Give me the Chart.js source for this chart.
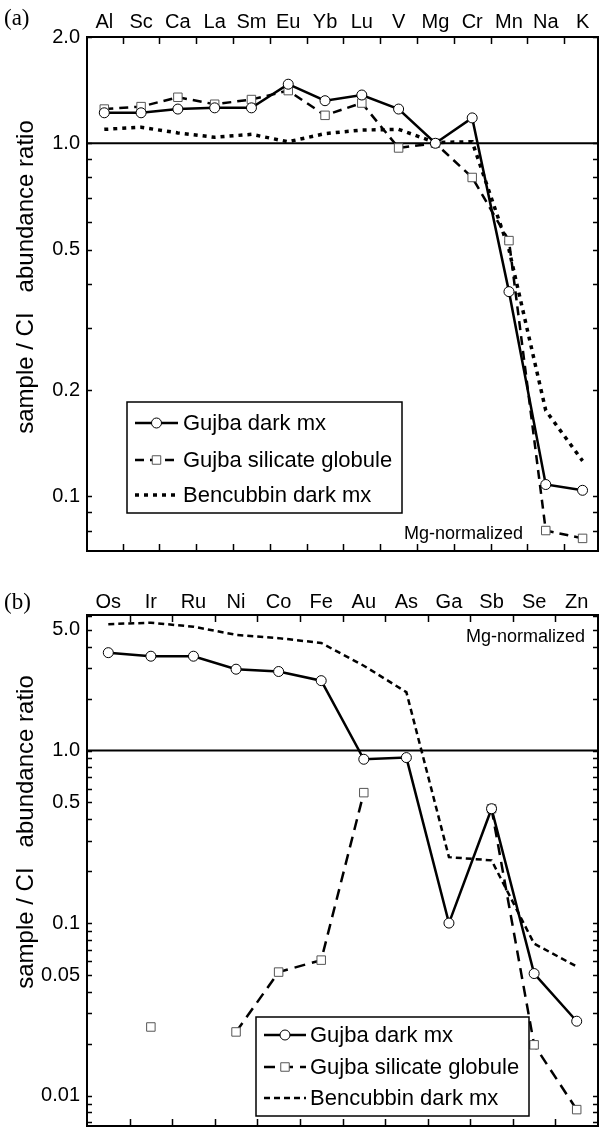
<!DOCTYPE html>
<html>
<head>
<meta charset="utf-8">
<script src="https://cdn.jsdelivr.net/npm/chart.js@4.4.0/dist/chart.umd.min.js"></script>
<style>
html, body { margin: 0; padding: 0; background: #fff; overflow: hidden; width: 605px; height: 1135px; }
.panel { position: absolute; left: 0; width: 605px; }
</style>
</head>
<body>
<div class="panel" style="top:0;height:570px"><canvas id="chartA"></canvas></div>
<div class="panel" style="top:570px;height:575px"><canvas id="chartB"></canvas></div>
<script>
// panel (a)
const elementsA = ['Al', 'Sc', 'Ca', 'La', 'Sm', 'Eu', 'Yb', 'Lu', 'V', 'Mg', 'Cr', 'Mn', 'Na', 'K'];
const gujbaDarkA = [1.22, 1.22, 1.25, 1.26, 1.26, 1.47, 1.32, 1.37, 1.25, 1.0, 1.18, 0.38, 0.108, 0.104];
const gujbaGlobA = [1.25, 1.27, 1.35, 1.29, 1.33, 1.41, 1.20, 1.30, 0.97, 1.0, 0.80, 0.53, 0.080, 0.076];
const bencubbinA = [1.095, 1.11, 1.07, 1.04, 1.06, 1.01, 1.065, 1.09, 1.095, 1.005, 1.01, 0.50, 0.175, 0.126];
const tickValsA = [0.1, 0.2, 0.5, 1, 2];
const tickLabelsA = ['0.1', '0.2', '0.5', '1.0', '2.0'];

// panel (b)
const elementsB = ['Os', 'Ir', 'Ru', 'Ni', 'Co', 'Fe', 'Au', 'As', 'Ga', 'Sb', 'Se', 'Zn'];
const gujbaDarkB = [3.69, 3.52, 3.52, 2.96, 2.87, 2.54, 0.89, 0.91, 0.10, 0.46, 0.051, 0.027];
const gujbaGlobB = [null, 0.025, null, 0.0234, 0.052, 0.061, 0.57, null, null, 0.46, 0.0197, 0.0083];
const bencubbinB = [5.4, 5.5, 5.22, 4.68, 4.48, 4.2, 3.1, 2.18, 0.241, 0.231, 0.076, 0.056];
const tickValsB = [0.01, 0.05, 0.1, 0.5, 1, 5];
const tickLabelsB = ['0.01', '0.05', '0.1', '0.5', '1.0', '5.0'];

const yTitle = 'sample / CI   abundance ratio';

const SANS = '"Liberation Sans", Arial, Helvetica, sans-serif';
const SERIF = '"Liberation Serif", "Times New Roman", serif';

function minorTicks(lo, hi) {
  const out = [];
  for (let d = -3; d <= 1; d++) {
    for (let m = 1; m <= 9; m++) {
      const v = m * Math.pow(10, d);
      if (v >= lo && v <= hi) out.push(v);
    }
  }
  return out;
}

function pts(vals) {
  return vals.map((v, i) => ({ x: i, y: v }));
}

// frame, inward ticks, 1.0 line, texts and the boxed legend
const frameTicks = {
  id: 'frameTicks',
  beforeDatasetsDraw(chart) {
    const { ctx, chartArea: a, scales: { y } } = chart;
    const py = y.getPixelForValue(1);
    ctx.save();
    ctx.lineWidth = 2;
    ctx.strokeStyle = '#000';
    ctx.beginPath();
    ctx.moveTo(a.left, py);
    ctx.lineTo(a.right, py);
    ctx.stroke();
    ctx.restore();
  },
  afterDatasetsDraw(chart, args, o) {
    const { ctx, chartArea: a, scales: { x, y } } = chart;
    ctx.save();
    ctx.strokeStyle = '#000';
    ctx.lineWidth = 2;
    ctx.strokeRect(a.left, a.top, a.right - a.left, a.bottom - a.top);
    ctx.lineWidth = 1.5;
    ctx.beginPath();
    o.xTicks.forEach(v => {
      const px = Math.round(x.getPixelForValue(v)) + 0.5;
      ctx.moveTo(px, a.top); ctx.lineTo(px, a.top + 7);
      ctx.moveTo(px, a.bottom); ctx.lineTo(px, a.bottom - 7);
    });
    o.yTicks.forEach(v => {
      const py = Math.round(y.getPixelForValue(v)) + 0.5;
      if (py < a.top || py > a.bottom) return;
      ctx.moveTo(a.left, py); ctx.lineTo(a.left + 5, py);
      ctx.moveTo(a.right, py); ctx.lineTo(a.right - 5, py);
    });
    ctx.stroke();
    ctx.restore();
  },
  afterDraw(chart, args, o) {
    const ctx = chart.ctx;
    ctx.save();
    ctx.fillStyle = '#000';
    ctx.font = '23px ' + SERIF;
    ctx.textBaseline = 'middle';
    ctx.textAlign = 'left';
    ctx.fillText(o.panel, 4, o.panelY);
    ctx.font = '18px ' + SANS;
    ctx.fillText('Mg-normalized', o.noteX, o.noteY);

    // rotated axis title
    ctx.save();
    ctx.translate(33, o.titleY);
    ctx.rotate(-Math.PI / 2);
    ctx.textAlign = 'center';
    ctx.textBaseline = 'alphabetic';
    ctx.font = '24px ' + SANS;
    ctx.fillText(yTitle, 0, 0);
    ctx.restore();

    const L = o.legend;
    ctx.lineWidth = 1.5;
    ctx.strokeRect(L.x, L.y, L.w, L.h);
    chart.data.datasets.forEach((ds, i) => {
      const yy = L.rows[i];
      ctx.save();
      ctx.strokeStyle = ds.borderColor;
      ctx.lineWidth = ds.borderWidth;
      ctx.setLineDash(ds.borderDash || []);
      ctx.beginPath();
      ctx.moveTo(L.x0, yy);
      ctx.lineTo(L.x1, yy);
      ctx.stroke();
      ctx.restore();
      const mx = (L.x0 + L.x1) / 2;
      if (ds.pointRadius > 0) {
        ctx.save();
        ctx.fillStyle = ds.pointBackgroundColor;
        ctx.strokeStyle = ds.pointBorderColor;
        ctx.lineWidth = ds.pointBorderWidth;
        ctx.beginPath();
        if (ds.pointStyle === 'rect') {
          const s = ds.pointRadius * Math.SQRT1_2;
          ctx.rect(mx - s, yy - s, 2 * s, 2 * s);
        } else {
          ctx.arc(mx, yy, ds.pointRadius, 0, Math.PI * 2);
        }
        ctx.fill();
        ctx.stroke();
        ctx.restore();
      }
      ctx.font = '22px ' + SANS;
      ctx.fillText(ds.label, L.tx, yy + 1);
    });
    ctx.restore();
  }
};

function makeChart(id, cfg) {
  const datasets = [
    {
      label: 'Gujba dark mx',
      data: pts(cfg.dark),
      borderColor: '#000',
      borderWidth: 2.5,
      pointStyle: 'circle',
      pointRadius: 5,
      pointBackgroundColor: '#fff',
      pointBorderColor: '#000',
      pointBorderWidth: 1
    },
    {
      label: 'Gujba silicate globule',
      data: pts(cfg.glob),
      borderColor: '#000',
      borderWidth: 2.5,
      borderDash: cfg.globDash,
      pointStyle: 'rect',
      pointRadius: 6,
      pointBackgroundColor: '#fff',
      pointBorderColor: '#555',
      pointBorderWidth: 1
    },
    {
      label: 'Bencubbin dark mx',
      data: pts(cfg.benc),
      borderColor: '#000',
      borderWidth: cfg.bencWidth,
      borderDash: cfg.bencDash,
      pointRadius: 0
    }
  ];

  return new Chart(document.getElementById(id), {
    type: 'line',
    data: { datasets },
    options: {
      responsive: true,
      maintainAspectRatio: false,
      animation: false,
      events: [],
      layout: { padding: { left: 0, right: 2, top: 0, bottom: cfg.padBottom } },
      scales: {
        x: {
          type: 'linear',
          position: 'top',
          min: cfg.xMin,
          max: cfg.xMax,
          afterBuildTicks: s => { s.ticks = cfg.cats.map((c, i) => ({ value: i })); },
          afterFit: s => { s.height = cfg.topH; },
          ticks: {
            autoSkip: false,
            maxRotation: 0,
            padding: cfg.xPad,
            color: '#000',
            font: { family: SANS, size: 20 },
            callback: v => cfg.cats[v]
          },
          grid: { display: false, drawTicks: false },
          border: { display: false }
        },
        y: {
          type: 'logarithmic',
          min: cfg.yMin,
          max: cfg.yMax,
          afterBuildTicks: s => { s.ticks = cfg.tickVals.map(v => ({ value: v })); },
          afterFit: s => { s.width = 87; },
          ticks: {
            autoSkip: false,
            padding: 7,
            color: '#000',
            font: { family: SANS, size: 20 },
            callback: v => cfg.tickLabels[cfg.tickVals.indexOf(v)]
          },
          grid: { display: false, drawTicks: false },
          border: { display: false }
        }
      },
      plugins: {
        legend: { display: false },
        tooltip: { enabled: false },
        frameTicks: cfg.deco
      }
    },
    plugins: [frameTicks]
  });
}

makeChart('chartA', {
  cats: elementsA,
  dark: gujbaDarkA, glob: gujbaGlobA, benc: bencubbinA,
  globDash: [9, 6], bencDash: [4, 5], bencWidth: 3.5,
  tickVals: tickValsA, tickLabels: tickLabelsA,
  xMin: -0.47, xMax: 13.42, yMin: 0.07, yMax: 2.0,
  topH: 37, xPad: 3, padBottom: 13,
  deco: {
    panel: '(a)', panelY: 19, titleY: 277,
    noteX: 404, noteY: 534,
    xTicks: elementsA.slice(1).map((c, i) => i + 0.5),
    yTicks: minorTicks(0.07, 2.0),
    legend: { x: 127, y: 402, w: 275, h: 111, rows: [423, 460, 495], x0: 135, x1: 178, tx: 183 }
  }
});

makeChart('chartB', {
  cats: elementsB,
  dark: gujbaDarkB, glob: gujbaGlobB, benc: bencubbinB,
  globDash: [11, 7], bencDash: [6, 4], bencWidth: 2.5,
  tickVals: tickValsB, tickLabels: tickLabelsB,
  xMin: -0.5, xMax: 11.5, yMin: 0.00667, yMax: 6.1,
  topH: 45, xPad: 1, padBottom: 8,
  deco: {
    panel: '(b)', panelY: 33, titleY: 262,
    noteX: 466, noteY: 67,
    xTicks: elementsB.slice(1).map((c, i) => i + 0.5),
    yTicks: minorTicks(0.00667, 6.1),
    legend: { x: 256, y: 447, w: 273, h: 99, rows: [465, 497, 528], x0: 264, x1: 306, tx: 310 }
  }
});
</script>
</body>
</html>
